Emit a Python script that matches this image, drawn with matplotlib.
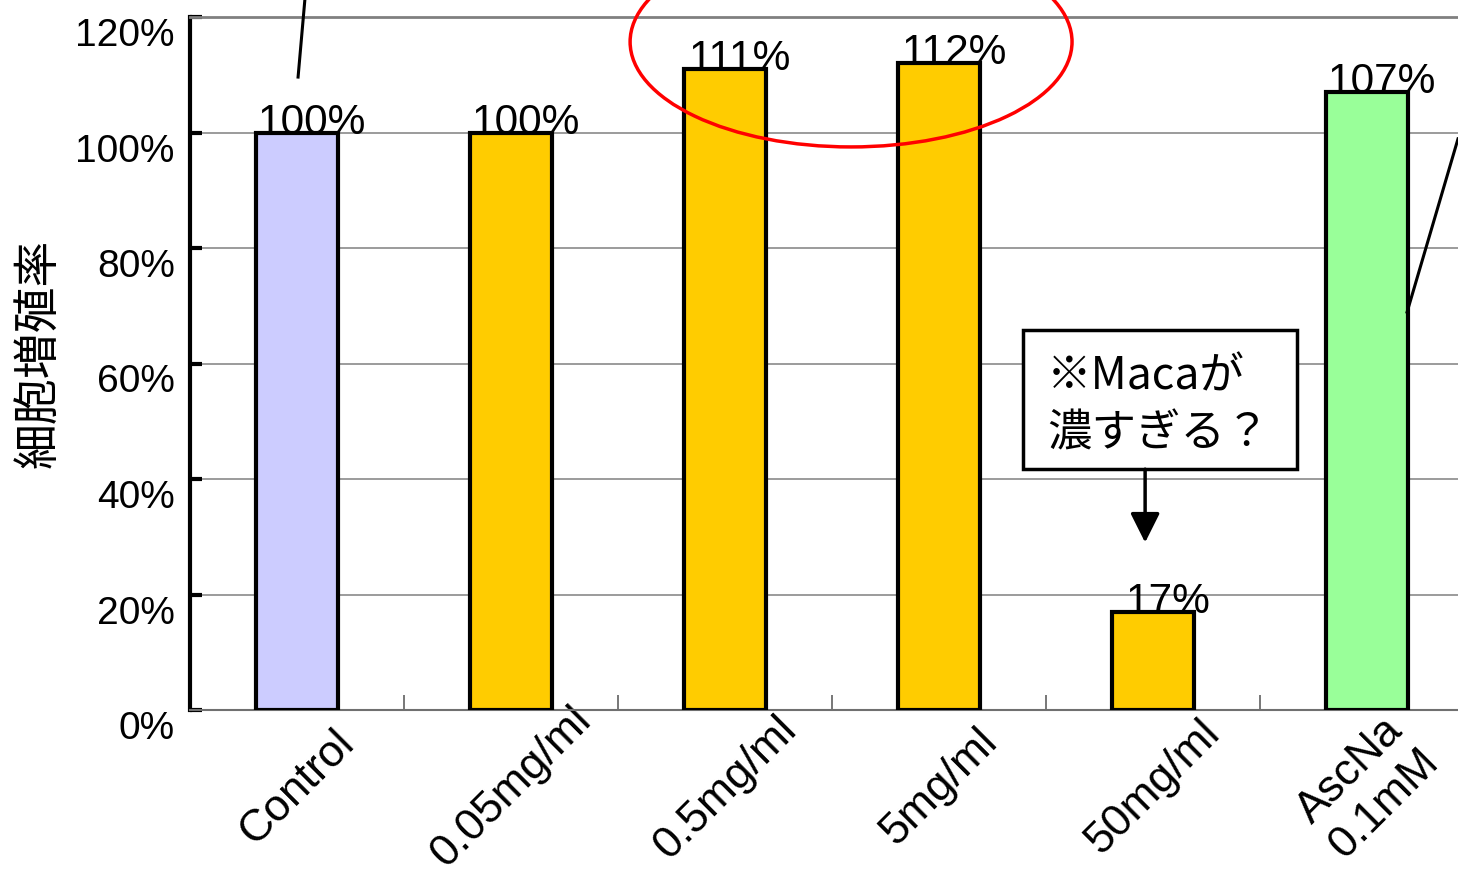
import matplotlib
matplotlib.use("Agg")
import matplotlib.pyplot as plt
from matplotlib.patches import Ellipse, Rectangle
from matplotlib.transforms import ScaledTranslation

# --- data -----------------------------------------------------------
categories = ["Control", "0.05mg/ml", "0.5mg/ml", "5mg/ml", "50mg/ml", "AscNa\n0.1mM"]
growth_pct = [100, 100, 111, 112, 17, 107]
value_labels = ["100%", "100%", "111%", "112%", "17%", "107%"]
bar_colors = ["#CCCCFF", "#FFCC00", "#FFCC00", "#FFCC00", "#FFCC00", "#99FF99"]
yticks = [0, 20, 40, 60, 80, 100, 120]
ytick_labels = ["0%", "20%", "40%", "60%", "80%", "100%", "120%"]
ylabel = "細胞増殖率"
note_text = "※Macaが\n濃すぎる？"

LAT_FONT = ["Liberation Sans", "DejaVu Sans"]
JP_FONT = ["Noto Sans CJK JP", "DejaVu Sans"]

fig = plt.figure(figsize=(14.58, 8.78), dpi=100, facecolor="white")
ax = fig.add_axes([190 / 1458, 167 / 878, 1268 / 1458, 693 / 878])

x = list(range(len(categories)))
ax.bar(x, growth_pct, width=0.38, color=bar_colors, edgecolor="black",
       linewidth=3, zorder=3)

# value labels sit on the bar top, nudged right a bit like the original
for xi, v, lab in zip(x, growth_pct, value_labels):
    ax.annotate(lab, (xi, v), xytext=(11, 0), textcoords="offset points",
                ha="center", va="baseline", fontsize=30.5, family=LAT_FONT,
                zorder=4)

ax.set_xlim(-0.5, 5.425)
ax.set_ylim(0, 120)

# y axis
ax.set_yticks(yticks)
ax.set_yticklabels(ytick_labels, family=LAT_FONT, fontsize=28)
ax.tick_params(axis="y", direction="in", length=8.5, width=3, color="black", pad=11)
shift = ScaledTranslation(0, -0.14, fig.dpi_scale_trans)
for lab in ax.get_yticklabels():
    lab.set_transform(lab.get_transform() + shift)
ax.set_ylabel(ylabel, family=JP_FONT, fontsize=33)
ax.yaxis.set_label_coords(-0.1, 0.516)

# x axis: separator ticks between categories, labels at bar centers
ax.set_xticks([i + 0.5 for i in x[:-1]])
ax.set_xticklabels([])
ax.tick_params(axis="x", which="major", direction="in", length=11, width=1.2,
               color="#606060")
ax.set_xticks(x, minor=True)
ax.set_xticklabels(categories, minor=True, rotation=45, ha="center", va="center",
                   fontsize=32, family=LAT_FONT)
ax.tick_params(axis="x", which="minor", length=0, pad=55)

ax.spines["right"].set_visible(False)
ax.spines["left"].set_linewidth(3)
ax.spines["left"].set_color("black")
ax.spines["bottom"].set_linewidth(1.5)
ax.spines["bottom"].set_color("#707070")
ax.spines["top"].set_linewidth(2)
ax.spines["top"].set_color("#808080")

ax.yaxis.grid(True, color="#808080", linewidth=1.1)
ax.set_axisbelow(True)

# red ellipse around 0.5 and 5 mg/ml
ax.add_patch(Ellipse((2.589, 115.7), 2.065, 36.4, fill=False, edgecolor="red",
                     linewidth=2.5, clip_on=False, zorder=5))

# note box with arrow pointing at the 50mg/ml bar
ax.add_patch(Rectangle((3.393, 41.7), 1.280, 24.1, facecolor="white",
                       edgecolor="black", linewidth=2.5, zorder=5))
ax.text(3.505, 53.0, note_text, ha="left", va="center", fontsize=32,
        family=JP_FONT, linespacing=1.3, zorder=6)
ax.annotate("", xy=(3.963, 29.0), xytext=(3.963, 41.7),
            arrowprops=dict(arrowstyle="-|>", color="black", lw=2.5,
                            mutation_scale=45, shrinkA=0, shrinkB=0), zorder=6)

# leader lines of callouts cut off by the crop
ax.plot([0.037, 0.005], [123.1, 109.6], color="black", linewidth=2.2,
        clip_on=False, zorder=5)
ax.plot([5.425, 5.187], [98.9, 68.9], color="black", linewidth=2.2,
        clip_on=False, zorder=5)

fig.savefig("out.png", dpi=100, facecolor="white")
